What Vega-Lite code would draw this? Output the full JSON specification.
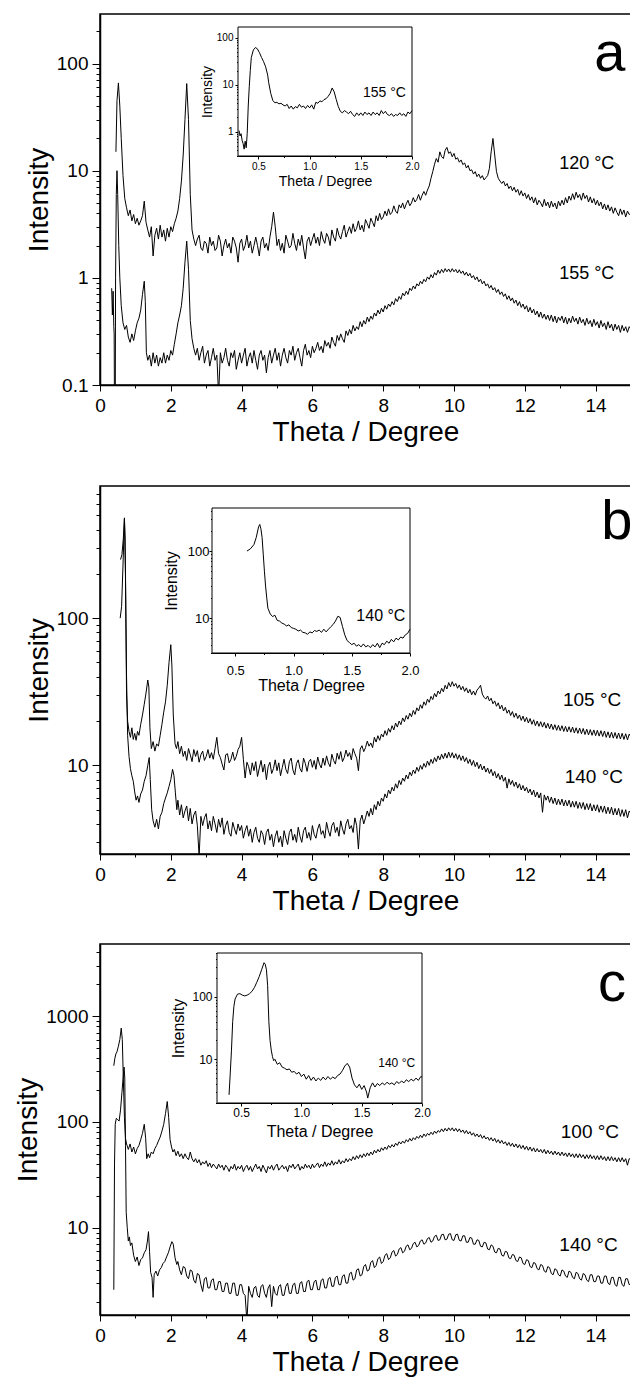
{
"$schema":"https://vega.github.io/schema/vega-lite/v6.json",
"background":"white",
"padding":{"left":13,"top":13,"right":0,"bottom":0},
"config":{
 "view":{"stroke":"black","strokeWidth":1.5},
 "axis":{"grid":false,"labelFlush":false,"labelOverlap":false,"minExtent":0,"domainColor":"black","tickColor":"black","labelColor":"black","titleColor":"black","labelFont":"Liberation Sans","titleFont":"Liberation Sans","titleFontWeight":"normal","domainWidth":1.5,"tickWidth":1},
 "text":{"font":"Liberation Sans","color":"black"},
 "line":{"color":"black"}
},
"datasets":{
"a1":[{"x":0.45,"y":15},{"x":0.48,"y":45},{"x":0.52,"y":66},{"x":0.56,"y":40},{"x":0.6,"y":20},{"x":0.65,"y":9},{"x":0.7,"y":5.5},{"x":0.75,"y":4.5},{"x":0.8,"y":3.8},{"x":0.85,"y":4.3},{"x":0.9,"y":3.4},{"x":0.95,"y":3.9},{"x":1,"y":3.2},{"x":1.05,"y":3.6},{"x":1.1,"y":3.1},{"x":1.15,"y":3.4},{"x":1.2,"y":3.8},{"x":1.25,"y":5.2},{"x":1.3,"y":3.3},{"x":1.35,"y":2.8},{"x":1.4,"y":2.4},{"x":1.45,"y":3},{"x":1.5,"y":1.6},{"x":1.55,"y":2.5},{"x":1.6,"y":2.9},{"x":1.65,"y":2.3},{"x":1.7,"y":3.1},{"x":1.75,"y":2.4},{"x":1.8,"y":2.8},{"x":1.85,"y":2.2},{"x":1.9,"y":2.9},{"x":1.95,"y":2.4},{"x":2,"y":3},{"x":2.05,"y":2.7},{"x":2.1,"y":3.2},{"x":2.15,"y":3.6},{"x":2.2,"y":4.2},{"x":2.25,"y":5.5},{"x":2.3,"y":8},{"x":2.35,"y":14},{"x":2.4,"y":30},{"x":2.45,"y":65},{"x":2.5,"y":30},{"x":2.55,"y":6},{"x":2.6,"y":2.8},{"x":2.65,"y":2.3},{"x":2.7,"y":2},{"x":2.75,"y":2.3},{"x":2.8,"y":2.5},{"x":2.85,"y":1.9},{"x":2.9,"y":1.8},{"x":2.95,"y":2.2},{"x":3,"y":2.1},{"x":3.05,"y":1.7},{"x":3.1,"y":2.4},{"x":3.15,"y":2},{"x":3.2,"y":2.2},{"x":3.25,"y":1.8},{"x":3.3,"y":1.9},{"x":3.35,"y":2.5},{"x":3.4,"y":2.2},{"x":3.45,"y":1.6},{"x":3.5,"y":2},{"x":3.55,"y":2.3},{"x":3.6,"y":1.9},{"x":3.65,"y":2.1},{"x":3.7,"y":1.7},{"x":3.75,"y":2.4},{"x":3.8,"y":2.2},{"x":3.85,"y":1.9},{"x":3.9,"y":1.4},{"x":3.95,"y":2.1},{"x":4,"y":2.3},{"x":4.05,"y":1.8},{"x":4.1,"y":2},{"x":4.15,"y":2.5},{"x":4.2,"y":1.9},{"x":4.25,"y":2.2},{"x":4.3,"y":1.7},{"x":4.35,"y":2},{"x":4.4,"y":2.4},{"x":4.45,"y":2},{"x":4.5,"y":1.6},{"x":4.55,"y":2.2},{"x":4.6,"y":2.4},{"x":4.65,"y":1.9},{"x":4.7,"y":2.1},{"x":4.75,"y":1.8},{"x":4.8,"y":2.4},{"x":4.85,"y":3},{"x":4.9,"y":4.1},{"x":4.95,"y":3},{"x":5,"y":2},{"x":5.05,"y":2.3},{"x":5.1,"y":1.8},{"x":5.15,"y":2.1},{"x":5.2,"y":1.7},{"x":5.25,"y":2.5},{"x":5.3,"y":2.2},{"x":5.35,"y":1.9},{"x":5.4,"y":2},{"x":5.45,"y":2.6},{"x":5.5,"y":2.1},{"x":5.55,"y":1.8},{"x":5.6,"y":2.3},{"x":5.65,"y":2},{"x":5.7,"y":2.5},{"x":5.75,"y":1.9},{"x":5.8,"y":1.5},{"x":5.85,"y":2.2},{"x":5.9,"y":2.4},{"x":5.95,"y":2},{"x":6,"y":2.3},{"x":6.05,"y":2.6},{"x":6.1,"y":2.1},{"x":6.15,"y":2.4},{"x":6.2,"y":2},{"x":6.25,"y":2.7},{"x":6.3,"y":2.3},{"x":6.35,"y":2.1},{"x":6.4,"y":2.6},{"x":6.45,"y":2.4},{"x":6.5,"y":2},{"x":6.55,"y":2.8},{"x":6.6,"y":2.4},{"x":6.65,"y":2.2},{"x":6.7,"y":2.9},{"x":6.75,"y":2.5},{"x":6.8,"y":2.3},{"x":6.85,"y":2.7},{"x":6.9,"y":3.1},{"x":6.95,"y":2.4},{"x":7,"y":2.7},{"x":7.05,"y":3},{"x":7.1,"y":2.6},{"x":7.15,"y":3.2},{"x":7.2,"y":2.7},{"x":7.25,"y":2.9},{"x":7.3,"y":3.4},{"x":7.35,"y":2.8},{"x":7.4,"y":3.1},{"x":7.45,"y":2.7},{"x":7.5,"y":3.5},{"x":7.55,"y":3.2},{"x":7.6,"y":2.9},{"x":7.65,"y":3.6},{"x":7.7,"y":3.3},{"x":7.75,"y":3},{"x":7.8,"y":3.8},{"x":7.85,"y":3.4},{"x":7.9,"y":4},{"x":7.95,"y":3.5},{"x":8,"y":3.7},{"x":8.05,"y":4.2},{"x":8.1,"y":3.8},{"x":8.15,"y":4.4},{"x":8.2,"y":3.9},{"x":8.25,"y":4.1},{"x":8.3,"y":4.7},{"x":8.35,"y":4.2},{"x":8.4,"y":4},{"x":8.45,"y":4.8},{"x":8.5,"y":4.5},{"x":8.55,"y":5},{"x":8.6,"y":4.4},{"x":8.65,"y":4.9},{"x":8.7,"y":5.3},{"x":8.75,"y":4.7},{"x":8.8,"y":5},{"x":8.85,"y":5.6},{"x":8.9,"y":5.1},{"x":8.95,"y":5.4},{"x":9,"y":6},{"x":9.05,"y":5.3},{"x":9.1,"y":5.9},{"x":9.15,"y":6.4},{"x":9.2,"y":5.9},{"x":9.25,"y":6.6},{"x":9.3,"y":7.2},{"x":9.35,"y":8.5},{"x":9.4,"y":9.8},{"x":9.45,"y":11.5},{"x":9.5,"y":13},{"x":9.55,"y":12},{"x":9.6,"y":15},{"x":9.65,"y":13.5},{"x":9.7,"y":13},{"x":9.75,"y":15.5},{"x":9.8,"y":16.5},{"x":9.85,"y":14.5},{"x":9.9,"y":15},{"x":9.95,"y":13.5},{"x":10,"y":14.5},{"x":10.05,"y":12.8},{"x":10.1,"y":13.2},{"x":10.15,"y":12},{"x":10.2,"y":12.6},{"x":10.25,"y":11.4},{"x":10.3,"y":11.8},{"x":10.35,"y":10.6},{"x":10.4,"y":11.2},{"x":10.45,"y":10},{"x":10.5,"y":10.2},{"x":10.55,"y":9.3},{"x":10.6,"y":9.8},{"x":10.65,"y":8.8},{"x":10.7,"y":9.3},{"x":10.75,"y":8.5},{"x":10.8,"y":9},{"x":10.85,"y":8.2},{"x":10.9,"y":8.6},{"x":10.95,"y":9},{"x":11,"y":10.5},{"x":11.05,"y":15},{"x":11.1,"y":20},{"x":11.15,"y":14},{"x":11.2,"y":9.8},{"x":11.25,"y":8.5},{"x":11.3,"y":8},{"x":11.35,"y":7.6},{"x":11.4,"y":8},{"x":11.45,"y":7.2},{"x":11.5,"y":7.6},{"x":11.55,"y":6.8},{"x":11.6,"y":7.2},{"x":11.65,"y":6.5},{"x":11.7,"y":7},{"x":11.75,"y":6.3},{"x":11.8,"y":6.7},{"x":11.85,"y":5.9},{"x":11.9,"y":6.5},{"x":11.95,"y":5.8},{"x":12,"y":6.2},{"x":12.05,"y":5.5},{"x":12.1,"y":6},{"x":12.15,"y":5.3},{"x":12.2,"y":5.7},{"x":12.25,"y":5},{"x":12.3,"y":5.6},{"x":12.35,"y":4.8},{"x":12.4,"y":5.3},{"x":12.45,"y":5},{"x":12.5,"y":4.6},{"x":12.55,"y":5.4},{"x":12.6,"y":4.7},{"x":12.65,"y":5.1},{"x":12.7,"y":4.5},{"x":12.75,"y":5.2},{"x":12.8,"y":4.6},{"x":12.85,"y":5},{"x":12.9,"y":4.4},{"x":12.95,"y":5.2},{"x":13,"y":4.7},{"x":13.05,"y":5.3},{"x":13.1,"y":4.8},{"x":13.15,"y":5.6},{"x":13.2,"y":5},{"x":13.25,"y":5.8},{"x":13.3,"y":5.3},{"x":13.35,"y":6.1},{"x":13.4,"y":5.4},{"x":13.45,"y":6.3},{"x":13.5,"y":5.6},{"x":13.55,"y":6},{"x":13.6,"y":5.3},{"x":13.65,"y":6.2},{"x":13.7,"y":5.5},{"x":13.75,"y":5.9},{"x":13.8,"y":5.1},{"x":13.85,"y":5.7},{"x":13.9,"y":5},{"x":13.95,"y":5.5},{"x":14,"y":4.8},{"x":14.05,"y":5.3},{"x":14.1,"y":4.7},{"x":14.15,"y":5.1},{"x":14.2,"y":4.4},{"x":14.25,"y":4.9},{"x":14.3,"y":4.3},{"x":14.35,"y":4.8},{"x":14.4,"y":4.2},{"x":14.45,"y":4.6},{"x":14.5,"y":4},{"x":14.55,"y":4.5},{"x":14.6,"y":4.1},{"x":14.65,"y":3.8},{"x":14.7,"y":4.4},{"x":14.75,"y":3.9},{"x":14.8,"y":4.3},{"x":14.85,"y":3.7},{"x":14.9,"y":4.2},{"x":14.95,"y":3.9},{"x":15,"y":4}],
"a2":[{"x":0.33,"y":0.8},{"x":0.35,"y":0.45},{"x":0.37,"y":0.75},{"x":0.39,"y":0.35},{"x":0.4,"y":0.3},{"x":0.41,"y":0.05},{"x":0.43,"y":0.05},{"x":0.44,"y":1},{"x":0.46,"y":6},{"x":0.48,"y":10},{"x":0.5,"y":6},{"x":0.53,"y":2},{"x":0.56,"y":1},{"x":0.6,"y":0.55},{"x":0.65,"y":0.38},{"x":0.7,"y":0.33},{"x":0.75,"y":0.36},{"x":0.8,"y":0.28},{"x":0.85,"y":0.25},{"x":0.9,"y":0.3},{"x":0.95,"y":0.26},{"x":1,"y":0.32},{"x":1.05,"y":0.38},{"x":1.1,"y":0.42},{"x":1.15,"y":0.5},{"x":1.2,"y":0.7},{"x":1.25,"y":0.93},{"x":1.28,"y":0.6},{"x":1.31,"y":0.2},{"x":1.35,"y":0.17},{"x":1.4,"y":0.19},{"x":1.45,"y":0.15},{"x":1.5,"y":0.2},{"x":1.55,"y":0.16},{"x":1.6,"y":0.19},{"x":1.65,"y":0.15},{"x":1.7,"y":0.18},{"x":1.75,"y":0.16},{"x":1.8,"y":0.2},{"x":1.85,"y":0.16},{"x":1.9,"y":0.19},{"x":1.95,"y":0.17},{"x":2,"y":0.21},{"x":2.05,"y":0.19},{"x":2.1,"y":0.24},{"x":2.15,"y":0.3},{"x":2.2,"y":0.38},{"x":2.25,"y":0.45},{"x":2.3,"y":0.55},{"x":2.35,"y":0.8},{"x":2.4,"y":1.4},{"x":2.45,"y":2.2},{"x":2.5,"y":1.2},{"x":2.55,"y":0.4},{"x":2.6,"y":0.27},{"x":2.65,"y":0.22},{"x":2.7,"y":0.19},{"x":2.75,"y":0.22},{"x":2.8,"y":0.17},{"x":2.85,"y":0.2},{"x":2.9,"y":0.23},{"x":2.95,"y":0.16},{"x":3,"y":0.19},{"x":3.05,"y":0.21},{"x":3.1,"y":0.15},{"x":3.15,"y":0.18},{"x":3.2,"y":0.22},{"x":3.25,"y":0.17},{"x":3.3,"y":0.19},{"x":3.35,"y":0.08},{"x":3.4,"y":0.2},{"x":3.45,"y":0.16},{"x":3.5,"y":0.18},{"x":3.55,"y":0.22},{"x":3.6,"y":0.17},{"x":3.65,"y":0.15},{"x":3.7,"y":0.2},{"x":3.75,"y":0.18},{"x":3.8,"y":0.21},{"x":3.85,"y":0.14},{"x":3.9,"y":0.17},{"x":3.95,"y":0.2},{"x":4,"y":0.16},{"x":4.05,"y":0.19},{"x":4.1,"y":0.22},{"x":4.15,"y":0.15},{"x":4.2,"y":0.18},{"x":4.25,"y":0.2},{"x":4.3,"y":0.16},{"x":4.35,"y":0.21},{"x":4.4,"y":0.17},{"x":4.45,"y":0.14},{"x":4.5,"y":0.19},{"x":4.55,"y":0.21},{"x":4.6,"y":0.17},{"x":4.65,"y":0.19},{"x":4.7,"y":0.13},{"x":4.75,"y":0.18},{"x":4.8,"y":0.21},{"x":4.85,"y":0.16},{"x":4.9,"y":0.19},{"x":4.95,"y":0.22},{"x":5,"y":0.17},{"x":5.05,"y":0.2},{"x":5.1,"y":0.15},{"x":5.15,"y":0.19},{"x":5.2,"y":0.22},{"x":5.25,"y":0.18},{"x":5.3,"y":0.16},{"x":5.35,"y":0.21},{"x":5.4,"y":0.19},{"x":5.45,"y":0.23},{"x":5.5,"y":0.17},{"x":5.55,"y":0.2},{"x":5.6,"y":0.22},{"x":5.65,"y":0.18},{"x":5.7,"y":0.15},{"x":5.75,"y":0.21},{"x":5.8,"y":0.24},{"x":5.85,"y":0.19},{"x":5.9,"y":0.21},{"x":5.95,"y":0.18},{"x":6,"y":0.23},{"x":6.05,"y":0.2},{"x":6.1,"y":0.22},{"x":6.15,"y":0.25},{"x":6.2,"y":0.21},{"x":6.25,"y":0.23},{"x":6.3,"y":0.2},{"x":6.35,"y":0.26},{"x":6.4,"y":0.23},{"x":6.45,"y":0.25},{"x":6.5,"y":0.22},{"x":6.55,"y":0.28},{"x":6.6,"y":0.25},{"x":6.65,"y":0.23},{"x":6.7,"y":0.29},{"x":6.75,"y":0.26},{"x":6.8,"y":0.3},{"x":6.85,"y":0.27},{"x":6.9,"y":0.25},{"x":6.95,"y":0.32},{"x":7,"y":0.29},{"x":7.05,"y":0.33},{"x":7.1,"y":0.3},{"x":7.15,"y":0.36},{"x":7.2,"y":0.32},{"x":7.25,"y":0.35},{"x":7.3,"y":0.33},{"x":7.35,"y":0.39},{"x":7.4,"y":0.35},{"x":7.45,"y":0.4},{"x":7.5,"y":0.37},{"x":7.55,"y":0.43},{"x":7.6,"y":0.39},{"x":7.65,"y":0.44},{"x":7.7,"y":0.41},{"x":7.75,"y":0.47},{"x":7.8,"y":0.44},{"x":7.85,"y":0.5},{"x":7.9,"y":0.46},{"x":7.95,"y":0.52},{"x":8,"y":0.48},{"x":8.05,"y":0.55},{"x":8.1,"y":0.51},{"x":8.15,"y":0.57},{"x":8.2,"y":0.54},{"x":8.25,"y":0.6},{"x":8.3,"y":0.56},{"x":8.35,"y":0.64},{"x":8.4,"y":0.6},{"x":8.45,"y":0.67},{"x":8.5,"y":0.63},{"x":8.55,"y":0.72},{"x":8.6,"y":0.68},{"x":8.65,"y":0.75},{"x":8.7,"y":0.7},{"x":8.75,"y":0.8},{"x":8.8,"y":0.76},{"x":8.85,"y":0.84},{"x":8.9,"y":0.79},{"x":8.95,"y":0.88},{"x":9,"y":0.84},{"x":9.05,"y":0.93},{"x":9.1,"y":0.88},{"x":9.15,"y":0.97},{"x":9.2,"y":0.92},{"x":9.25,"y":1.02},{"x":9.3,"y":0.97},{"x":9.35,"y":1.07},{"x":9.4,"y":1},{"x":9.45,"y":1.12},{"x":9.5,"y":1.06},{"x":9.55,"y":1.18},{"x":9.6,"y":1.1},{"x":9.65,"y":1.2},{"x":9.7,"y":1.12},{"x":9.75,"y":1.22},{"x":9.8,"y":1.14},{"x":9.85,"y":1.21},{"x":9.9,"y":1.13},{"x":9.95,"y":1.22},{"x":10,"y":1.14},{"x":10.05,"y":1.2},{"x":10.1,"y":1.11},{"x":10.15,"y":1.19},{"x":10.2,"y":1.1},{"x":10.25,"y":1.16},{"x":10.3,"y":1.06},{"x":10.35,"y":1.13},{"x":10.4,"y":1.04},{"x":10.45,"y":1.1},{"x":10.5,"y":1},{"x":10.55,"y":1.05},{"x":10.6,"y":0.96},{"x":10.65,"y":1.02},{"x":10.7,"y":0.92},{"x":10.75,"y":0.97},{"x":10.8,"y":0.88},{"x":10.85,"y":0.93},{"x":10.9,"y":0.84},{"x":10.95,"y":0.88},{"x":11,"y":0.8},{"x":11.05,"y":0.85},{"x":11.1,"y":0.77},{"x":11.15,"y":0.81},{"x":11.2,"y":0.73},{"x":11.25,"y":0.78},{"x":11.3,"y":0.7},{"x":11.35,"y":0.74},{"x":11.4,"y":0.67},{"x":11.45,"y":0.71},{"x":11.5,"y":0.63},{"x":11.55,"y":0.68},{"x":11.6,"y":0.61},{"x":11.65,"y":0.65},{"x":11.7,"y":0.58},{"x":11.75,"y":0.62},{"x":11.8,"y":0.55},{"x":11.85,"y":0.6},{"x":11.9,"y":0.53},{"x":11.95,"y":0.57},{"x":12,"y":0.51},{"x":12.05,"y":0.55},{"x":12.1,"y":0.48},{"x":12.15,"y":0.53},{"x":12.2,"y":0.47},{"x":12.25,"y":0.51},{"x":12.3,"y":0.45},{"x":12.35,"y":0.49},{"x":12.4,"y":0.43},{"x":12.45,"y":0.48},{"x":12.5,"y":0.42},{"x":12.55,"y":0.46},{"x":12.6,"y":0.41},{"x":12.65,"y":0.45},{"x":12.7,"y":0.4},{"x":12.75,"y":0.45},{"x":12.8,"y":0.39},{"x":12.85,"y":0.44},{"x":12.9,"y":0.38},{"x":12.95,"y":0.43},{"x":13,"y":0.4},{"x":13.05,"y":0.44},{"x":13.1,"y":0.38},{"x":13.15,"y":0.43},{"x":13.2,"y":0.37},{"x":13.25,"y":0.42},{"x":13.3,"y":0.38},{"x":13.35,"y":0.44},{"x":13.4,"y":0.39},{"x":13.45,"y":0.42},{"x":13.5,"y":0.37},{"x":13.55,"y":0.43},{"x":13.6,"y":0.38},{"x":13.65,"y":0.41},{"x":13.7,"y":0.36},{"x":13.75,"y":0.42},{"x":13.8,"y":0.37},{"x":13.85,"y":0.4},{"x":13.9,"y":0.35},{"x":13.95,"y":0.41},{"x":14,"y":0.36},{"x":14.05,"y":0.39},{"x":14.1,"y":0.34},{"x":14.15,"y":0.4},{"x":14.2,"y":0.35},{"x":14.25,"y":0.38},{"x":14.3,"y":0.33},{"x":14.35,"y":0.39},{"x":14.4,"y":0.34},{"x":14.45,"y":0.37},{"x":14.5,"y":0.32},{"x":14.55,"y":0.37},{"x":14.6,"y":0.33},{"x":14.65,"y":0.36},{"x":14.7,"y":0.31},{"x":14.75,"y":0.36},{"x":14.8,"y":0.32},{"x":14.85,"y":0.35},{"x":14.9,"y":0.31},{"x":14.95,"y":0.35},{"x":15,"y":0.33}],
"ai":[{"x":0.31,"y":1.05},{"x":0.32,"y":0.8},{"x":0.33,"y":0.9},{"x":0.34,"y":0.65},{"x":0.35,"y":0.55},{"x":0.36,"y":0.42},{"x":0.37,"y":0.62},{"x":0.38,"y":0.45},{"x":0.39,"y":0.9},{"x":0.4,"y":3.5},{"x":0.41,"y":9},{"x":0.42,"y":20},{"x":0.43,"y":38},{"x":0.45,"y":55},{"x":0.47,"y":62},{"x":0.49,"y":58},{"x":0.51,"y":48},{"x":0.53,"y":38},{"x":0.55,"y":31},{"x":0.57,"y":24},{"x":0.59,"y":16},{"x":0.6,"y":11},{"x":0.62,"y":6.5},{"x":0.64,"y":4.6},{"x":0.66,"y":4.1},{"x":0.68,"y":4.2},{"x":0.7,"y":3.9},{"x":0.72,"y":4},{"x":0.74,"y":3.7},{"x":0.76,"y":3.5},{"x":0.78,"y":3.8},{"x":0.8,"y":3.1},{"x":0.82,"y":3.5},{"x":0.84,"y":3},{"x":0.86,"y":3.4},{"x":0.88,"y":3.2},{"x":0.9,"y":3.8},{"x":0.92,"y":3.3},{"x":0.94,"y":3.5},{"x":0.96,"y":3.1},{"x":0.98,"y":3.6},{"x":1,"y":3.2},{"x":1.02,"y":3.7},{"x":1.04,"y":3},{"x":1.06,"y":4.2},{"x":1.08,"y":4},{"x":1.1,"y":4.5},{"x":1.12,"y":4.3},{"x":1.14,"y":4.8},{"x":1.16,"y":5},{"x":1.18,"y":5.6},{"x":1.2,"y":6.5},{"x":1.22,"y":8.5},{"x":1.24,"y":7},{"x":1.26,"y":4.8},{"x":1.28,"y":3.4},{"x":1.3,"y":2.7},{"x":1.32,"y":2.5},{"x":1.34,"y":2.8},{"x":1.36,"y":2.6},{"x":1.38,"y":2.4},{"x":1.4,"y":2.7},{"x":1.42,"y":2.3},{"x":1.44,"y":2.1},{"x":1.46,"y":2.5},{"x":1.48,"y":2.2},{"x":1.5,"y":2.5},{"x":1.52,"y":2.2},{"x":1.54,"y":2.6},{"x":1.56,"y":2.3},{"x":1.58,"y":2.5},{"x":1.6,"y":2.2},{"x":1.62,"y":2.6},{"x":1.64,"y":2.3},{"x":1.66,"y":2.5},{"x":1.68,"y":2.2},{"x":1.7,"y":2.8},{"x":1.72,"y":2.4},{"x":1.74,"y":2.7},{"x":1.76,"y":2.3},{"x":1.78,"y":2.2},{"x":1.8,"y":2.4},{"x":1.82,"y":2.1},{"x":1.84,"y":2.3},{"x":1.86,"y":2.2},{"x":1.88,"y":2.5},{"x":1.9,"y":2.2},{"x":1.92,"y":2.4},{"x":1.94,"y":2.1},{"x":1.96,"y":2.6},{"x":1.98,"y":2.4},{"x":2,"y":2.8}],
"b1":[{"x":0.58,"y":250},{"x":0.62,"y":270},{"x":0.66,"y":350},{"x":0.69,"y":480},{"x":0.71,"y":350},{"x":0.73,"y":100},{"x":0.75,"y":30},{"x":0.78,"y":20},{"x":0.82,"y":17},{"x":0.86,"y":15.5},{"x":0.9,"y":18},{"x":0.94,"y":15},{"x":0.98,"y":16.5},{"x":1.02,"y":14.8},{"x":1.06,"y":17},{"x":1.1,"y":16},{"x":1.15,"y":19},{"x":1.2,"y":22},{"x":1.25,"y":26},{"x":1.3,"y":31},{"x":1.35,"y":38},{"x":1.38,"y":34},{"x":1.41,"y":18},{"x":1.45,"y":13},{"x":1.5,"y":14.5},{"x":1.55,"y":12.5},{"x":1.6,"y":14},{"x":1.65,"y":13.5},{"x":1.7,"y":16},{"x":1.75,"y":19},{"x":1.8,"y":23},{"x":1.85,"y":27},{"x":1.9,"y":35},{"x":1.95,"y":50},{"x":2,"y":66},{"x":2.03,"y":48},{"x":2.07,"y":22},{"x":2.12,"y":14},{"x":2.16,"y":13},{"x":2.2,"y":14.5},{"x":2.25,"y":12},{"x":2.3,"y":13.5},{"x":2.35,"y":11.5},{"x":2.4,"y":12.5},{"x":2.45,"y":10.8},{"x":2.5,"y":13},{"x":2.55,"y":11.8},{"x":2.6,"y":10.6},{"x":2.65,"y":12.8},{"x":2.7,"y":11.5},{"x":2.75,"y":12.6},{"x":2.8,"y":10.5},{"x":2.85,"y":11.8},{"x":2.9,"y":12.5},{"x":2.95,"y":10.8},{"x":3,"y":11.5},{"x":3.05,"y":12.8},{"x":3.1,"y":11.2},{"x":3.15,"y":12.2},{"x":3.2,"y":11},{"x":3.25,"y":13},{"x":3.3,"y":15.5},{"x":3.35,"y":12},{"x":3.4,"y":11.3},{"x":3.45,"y":10.2},{"x":3.5,"y":9.3},{"x":3.55,"y":11.8},{"x":3.6,"y":12},{"x":3.65,"y":10.4},{"x":3.7,"y":11},{"x":3.75,"y":12.3},{"x":3.8,"y":10.8},{"x":3.85,"y":11.5},{"x":3.9,"y":12.8},{"x":3.95,"y":13.5},{"x":4,"y":15.5},{"x":4.05,"y":11},{"x":4.1,"y":8.2},{"x":4.15,"y":10.5},{"x":4.2,"y":9.8},{"x":4.25,"y":8.6},{"x":4.3,"y":10.4},{"x":4.35,"y":9.2},{"x":4.4,"y":10.6},{"x":4.45,"y":8.4},{"x":4.5,"y":9.6},{"x":4.55,"y":10.8},{"x":4.6,"y":9},{"x":4.65,"y":10.2},{"x":4.7,"y":8},{"x":4.75,"y":9.8},{"x":4.8,"y":10.5},{"x":4.85,"y":8.8},{"x":4.9,"y":9.5},{"x":4.95,"y":10.9},{"x":5,"y":9.2},{"x":5.05,"y":10.4},{"x":5.1,"y":8.5},{"x":5.15,"y":9.7},{"x":5.2,"y":11},{"x":5.25,"y":9.4},{"x":5.3,"y":8.8},{"x":5.35,"y":10.6},{"x":5.4,"y":11.2},{"x":5.45,"y":9.3},{"x":5.5,"y":8.6},{"x":5.55,"y":10.3},{"x":5.6,"y":10.9},{"x":5.65,"y":9.5},{"x":5.7,"y":9},{"x":5.75,"y":11.2},{"x":5.8,"y":10.3},{"x":5.85,"y":9.1},{"x":5.9,"y":10.6},{"x":5.95,"y":11},{"x":6,"y":9.7},{"x":6.05,"y":10.8},{"x":6.1,"y":9.4},{"x":6.15,"y":11.4},{"x":6.2,"y":10.2},{"x":6.25,"y":9.6},{"x":6.3,"y":11.2},{"x":6.35,"y":10},{"x":6.4,"y":11.6},{"x":6.45,"y":10.4},{"x":6.5,"y":9.8},{"x":6.55,"y":11.9},{"x":6.6,"y":10.8},{"x":6.65,"y":10.2},{"x":6.7,"y":12.1},{"x":6.75,"y":11},{"x":6.8,"y":12.4},{"x":6.85,"y":10.6},{"x":6.9,"y":11.3},{"x":6.95,"y":12.7},{"x":7,"y":11.5},{"x":7.05,"y":12.2},{"x":7.1,"y":10.9},{"x":7.15,"y":13},{"x":7.2,"y":12},{"x":7.25,"y":11.2},{"x":7.3,"y":9.2},{"x":7.35,"y":12.9},{"x":7.4,"y":13.6},{"x":7.45,"y":12.4},{"x":7.5,"y":13.2},{"x":7.55,"y":14.6},{"x":7.6,"y":13.5},{"x":7.65,"y":14.2},{"x":7.7,"y":13.2},{"x":7.75,"y":15.5},{"x":7.8,"y":14.4},{"x":7.85,"y":15.9},{"x":7.9,"y":14.8},{"x":7.95,"y":16.3},{"x":8,"y":15.6},{"x":8.05,"y":17.2},{"x":8.1,"y":16},{"x":8.15,"y":17.8},{"x":8.2,"y":16.8},{"x":8.25,"y":18.6},{"x":8.3,"y":17.4},{"x":8.35,"y":19.4},{"x":8.4,"y":18.2},{"x":8.45,"y":20},{"x":8.5,"y":18.9},{"x":8.55,"y":21},{"x":8.6,"y":19.8},{"x":8.65,"y":21.8},{"x":8.7,"y":20.6},{"x":8.75,"y":22.6},{"x":8.8,"y":21.4},{"x":8.85,"y":23.6},{"x":8.9,"y":22.2},{"x":8.95,"y":24.6},{"x":9,"y":23.4},{"x":9.05,"y":25.8},{"x":9.1,"y":24.4},{"x":9.15,"y":27},{"x":9.2,"y":25.6},{"x":9.25,"y":28.2},{"x":9.3,"y":26.8},{"x":9.35,"y":29.4},{"x":9.4,"y":28},{"x":9.45,"y":30.8},{"x":9.5,"y":29.2},{"x":9.55,"y":32},{"x":9.6,"y":30.6},{"x":9.65,"y":33.4},{"x":9.7,"y":31.6},{"x":9.75,"y":35},{"x":9.8,"y":33},{"x":9.85,"y":36.5},{"x":9.9,"y":34.2},{"x":9.95,"y":37},{"x":10,"y":34.5},{"x":10.05,"y":36},{"x":10.1,"y":33.4},{"x":10.15,"y":35.2},{"x":10.2,"y":32.6},{"x":10.25,"y":34.4},{"x":10.3,"y":31.8},{"x":10.35,"y":33.6},{"x":10.4,"y":31},{"x":10.45,"y":32.8},{"x":10.5,"y":30.2},{"x":10.55,"y":32},{"x":10.6,"y":30},{"x":10.65,"y":32.5},{"x":10.7,"y":33.5},{"x":10.75,"y":35},{"x":10.8,"y":30.5},{"x":10.85,"y":29},{"x":10.9,"y":28.2},{"x":10.95,"y":29.6},{"x":11,"y":27.4},{"x":11.05,"y":28.6},{"x":11.1,"y":26.2},{"x":11.15,"y":27.4},{"x":11.2,"y":25.2},{"x":11.25,"y":26.6},{"x":11.3,"y":24.2},{"x":11.35,"y":25.6},{"x":11.4,"y":23.4},{"x":11.45,"y":24.8},{"x":11.5,"y":22.6},{"x":11.55,"y":23.8},{"x":11.6,"y":21.8},{"x":11.65,"y":23.2},{"x":11.7,"y":21.2},{"x":11.75,"y":22.6},{"x":11.8,"y":20.8},{"x":11.85,"y":22},{"x":11.9,"y":20.2},{"x":11.95,"y":21.6},{"x":12,"y":19.8},{"x":12.05,"y":21.2},{"x":12.1,"y":19.4},{"x":12.15,"y":20.8},{"x":12.2,"y":19},{"x":12.25,"y":20.4},{"x":12.3,"y":18.6},{"x":12.35,"y":20},{"x":12.4,"y":18.4},{"x":12.45,"y":19.8},{"x":12.5,"y":18.2},{"x":12.55,"y":19.6},{"x":12.6,"y":17.9},{"x":12.65,"y":19.3},{"x":12.7,"y":17.7},{"x":12.75,"y":19.1},{"x":12.8,"y":17.5},{"x":12.85,"y":18.9},{"x":12.9,"y":17.3},{"x":12.95,"y":18.7},{"x":13,"y":17.2},{"x":13.05,"y":18.6},{"x":13.1,"y":17},{"x":13.15,"y":18.4},{"x":13.2,"y":16.9},{"x":13.25,"y":18.3},{"x":13.3,"y":16.8},{"x":13.35,"y":18.2},{"x":13.4,"y":16.6},{"x":13.45,"y":18},{"x":13.5,"y":16.5},{"x":13.55,"y":17.9},{"x":13.6,"y":16.4},{"x":13.65,"y":17.8},{"x":13.7,"y":16.2},{"x":13.75,"y":17.6},{"x":13.8,"y":16.1},{"x":13.85,"y":17.5},{"x":13.9,"y":16},{"x":13.95,"y":17.4},{"x":14,"y":15.9},{"x":14.05,"y":17.3},{"x":14.1,"y":15.8},{"x":14.15,"y":17.2},{"x":14.2,"y":15.7},{"x":14.25,"y":17.1},{"x":14.3,"y":15.5},{"x":14.35,"y":16.9},{"x":14.4,"y":15.4},{"x":14.45,"y":16.8},{"x":14.5,"y":15.3},{"x":14.55,"y":16.7},{"x":14.6,"y":15.2},{"x":14.65,"y":16.6},{"x":14.7,"y":15.1},{"x":14.75,"y":16.5},{"x":14.8,"y":15},{"x":14.85,"y":16.4},{"x":14.9,"y":14.9},{"x":14.95,"y":16.3},{"x":15,"y":15.6}],
"b2":[{"x":0.57,"y":100},{"x":0.61,"y":120},{"x":0.65,"y":230},{"x":0.69,"y":470},{"x":0.72,"y":200},{"x":0.75,"y":40},{"x":0.78,"y":16},{"x":0.82,"y":11.5},{"x":0.86,"y":9.5},{"x":0.9,"y":8.5},{"x":0.94,"y":7.8},{"x":0.98,"y":6.6},{"x":1.02,"y":5.8},{"x":1.06,"y":6.2},{"x":1.1,"y":5.6},{"x":1.15,"y":6.4},{"x":1.2,"y":6.8},{"x":1.25,"y":7.8},{"x":1.3,"y":8.5},{"x":1.35,"y":10},{"x":1.39,"y":11.3},{"x":1.42,"y":8},{"x":1.46,"y":5},{"x":1.5,"y":4.2},{"x":1.55,"y":3.8},{"x":1.6,"y":4.3},{"x":1.65,"y":3.7},{"x":1.7,"y":4.5},{"x":1.75,"y":4.8},{"x":1.8,"y":5.5},{"x":1.85,"y":6},{"x":1.9,"y":6.5},{"x":1.95,"y":7.2},{"x":2,"y":8},{"x":2.05,"y":9.4},{"x":2.09,"y":8.5},{"x":2.13,"y":6.5},{"x":2.17,"y":5},{"x":2.2,"y":5.8},{"x":2.25,"y":4.6},{"x":2.3,"y":5.4},{"x":2.35,"y":4.4},{"x":2.4,"y":4.9},{"x":2.45,"y":5.3},{"x":2.5,"y":4.2},{"x":2.55,"y":5.1},{"x":2.6,"y":4},{"x":2.65,"y":4.6},{"x":2.7,"y":4.9},{"x":2.75,"y":3.9},{"x":2.8,"y":2.4},{"x":2.85,"y":4.5},{"x":2.9,"y":3.9},{"x":2.95,"y":4.4},{"x":3,"y":4.7},{"x":3.05,"y":3.7},{"x":3.1,"y":4.2},{"x":3.15,"y":3.6},{"x":3.2,"y":4.5},{"x":3.25,"y":4},{"x":3.3,"y":3.5},{"x":3.35,"y":4.3},{"x":3.4,"y":3.8},{"x":3.45,"y":4.4},{"x":3.5,"y":3.4},{"x":3.55,"y":3.9},{"x":3.6,"y":4.2},{"x":3.65,"y":3.5},{"x":3.7,"y":3.3},{"x":3.75,"y":4.1},{"x":3.8,"y":3.7},{"x":3.85,"y":3.4},{"x":3.9,"y":4},{"x":3.95,"y":3.6},{"x":4,"y":3.9},{"x":4.05,"y":3.2},{"x":4.1,"y":3.6},{"x":4.15,"y":3.9},{"x":4.2,"y":3.3},{"x":4.25,"y":3.7},{"x":4.3,"y":3},{"x":4.35,"y":3.5},{"x":4.4,"y":3.8},{"x":4.45,"y":3.2},{"x":4.5,"y":3},{"x":4.55,"y":3.6},{"x":4.6,"y":3.4},{"x":4.65,"y":2.9},{"x":4.7,"y":3.5},{"x":4.75,"y":3.7},{"x":4.8,"y":3.1},{"x":4.85,"y":3.4},{"x":4.9,"y":2.8},{"x":4.95,"y":3.3},{"x":5,"y":3.6},{"x":5.05,"y":3},{"x":5.1,"y":3.3},{"x":5.15,"y":2.8},{"x":5.2,"y":3.6},{"x":5.25,"y":3.2},{"x":5.3,"y":2.9},{"x":5.35,"y":3.5},{"x":5.4,"y":3.7},{"x":5.45,"y":3.1},{"x":5.5,"y":3.4},{"x":5.55,"y":3},{"x":5.6,"y":3.8},{"x":5.65,"y":3.3},{"x":5.7,"y":3},{"x":5.75,"y":3.6},{"x":5.8,"y":3.8},{"x":5.85,"y":3.2},{"x":5.9,"y":3.5},{"x":5.95,"y":3.1},{"x":6,"y":3.9},{"x":6.05,"y":3.4},{"x":6.1,"y":3.2},{"x":6.15,"y":3.7},{"x":6.2,"y":4},{"x":6.25,"y":3.4},{"x":6.3,"y":3.6},{"x":6.35,"y":3.2},{"x":6.4,"y":4.1},{"x":6.45,"y":3.6},{"x":6.5,"y":3.3},{"x":6.55,"y":3.9},{"x":6.6,"y":4.1},{"x":6.65,"y":3.5},{"x":6.7,"y":3.8},{"x":6.75,"y":3.3},{"x":6.8,"y":4.2},{"x":6.85,"y":3.7},{"x":6.9,"y":3.4},{"x":6.95,"y":4},{"x":7,"y":4.3},{"x":7.05,"y":3.7},{"x":7.1,"y":3.9},{"x":7.15,"y":3.5},{"x":7.2,"y":4.4},{"x":7.25,"y":3.9},{"x":7.3,"y":2.7},{"x":7.35,"y":4.2},{"x":7.4,"y":4.6},{"x":7.45,"y":4},{"x":7.5,"y":4.4},{"x":7.55,"y":4.9},{"x":7.6,"y":4.5},{"x":7.65,"y":5.1},{"x":7.7,"y":4.6},{"x":7.75,"y":5.4},{"x":7.8,"y":5},{"x":7.85,"y":5.7},{"x":7.9,"y":5.3},{"x":7.95,"y":6},{"x":8,"y":5.7},{"x":8.05,"y":6.4},{"x":8.1,"y":6},{"x":8.15,"y":6.8},{"x":8.2,"y":6.4},{"x":8.25,"y":7.1},{"x":8.3,"y":6.7},{"x":8.35,"y":7.5},{"x":8.4,"y":7},{"x":8.45,"y":7.9},{"x":8.5,"y":7.4},{"x":8.55,"y":8.2},{"x":8.6,"y":7.8},{"x":8.65,"y":8.6},{"x":8.7,"y":8.1},{"x":8.75,"y":9},{"x":8.8,"y":8.5},{"x":8.85,"y":9.3},{"x":8.9,"y":8.8},{"x":8.95,"y":9.7},{"x":9,"y":9.1},{"x":9.05,"y":10},{"x":9.1,"y":9.4},{"x":9.15,"y":10.3},{"x":9.2,"y":9.7},{"x":9.25,"y":10.7},{"x":9.3,"y":10},{"x":9.35,"y":11},{"x":9.4,"y":10.3},{"x":9.45,"y":11.3},{"x":9.5,"y":10.6},{"x":9.55,"y":11.6},{"x":9.6,"y":10.9},{"x":9.65,"y":11.9},{"x":9.7,"y":11.1},{"x":9.75,"y":12.1},{"x":9.8,"y":11.2},{"x":9.85,"y":12.3},{"x":9.9,"y":11.3},{"x":9.95,"y":12.2},{"x":10,"y":11.2},{"x":10.05,"y":12},{"x":10.1,"y":11},{"x":10.15,"y":11.8},{"x":10.2,"y":10.8},{"x":10.25,"y":11.6},{"x":10.3,"y":10.6},{"x":10.35,"y":11.3},{"x":10.4,"y":10.3},{"x":10.45,"y":11},{"x":10.5,"y":10},{"x":10.55,"y":10.8},{"x":10.6,"y":9.8},{"x":10.65,"y":10.5},{"x":10.7,"y":9.5},{"x":10.75,"y":10.2},{"x":10.8,"y":9.3},{"x":10.85,"y":9.9},{"x":10.9,"y":9},{"x":10.95,"y":9.6},{"x":11,"y":8.8},{"x":11.05,"y":9.4},{"x":11.1,"y":8.5},{"x":11.15,"y":9.1},{"x":11.2,"y":8.2},{"x":11.25,"y":8.8},{"x":11.3,"y":8},{"x":11.35,"y":8.6},{"x":11.4,"y":7.8},{"x":11.45,"y":8.3},{"x":11.5,"y":7},{"x":11.55,"y":8.1},{"x":11.6,"y":7.4},{"x":11.65,"y":7.9},{"x":11.7,"y":7.2},{"x":11.75,"y":7.7},{"x":11.8,"y":7},{"x":11.85,"y":7.5},{"x":11.9,"y":6.8},{"x":11.95,"y":7.3},{"x":12,"y":6.7},{"x":12.05,"y":7.1},{"x":12.1,"y":6.5},{"x":12.15,"y":6.9},{"x":12.2,"y":6.3},{"x":12.25,"y":6.8},{"x":12.3,"y":6.1},{"x":12.35,"y":6.6},{"x":12.4,"y":6},{"x":12.45,"y":6.5},{"x":12.5,"y":4.8},{"x":12.55,"y":6.3},{"x":12.6,"y":5.8},{"x":12.65,"y":6.2},{"x":12.7,"y":5.6},{"x":12.75,"y":6.1},{"x":12.8,"y":5.5},{"x":12.85,"y":6},{"x":12.9,"y":5.4},{"x":12.95,"y":5.9},{"x":13,"y":5.4},{"x":13.05,"y":5.9},{"x":13.1,"y":5.3},{"x":13.15,"y":5.8},{"x":13.2,"y":5.3},{"x":13.25,"y":5.8},{"x":13.3,"y":5.2},{"x":13.35,"y":5.7},{"x":13.4,"y":5.2},{"x":13.45,"y":5.7},{"x":13.5,"y":5.1},{"x":13.55,"y":5.6},{"x":13.6,"y":5.1},{"x":13.65,"y":5.6},{"x":13.7,"y":5},{"x":13.75,"y":5.5},{"x":13.8,"y":5},{"x":13.85,"y":5.5},{"x":13.9,"y":4.9},{"x":13.95,"y":5.4},{"x":14,"y":4.9},{"x":14.05,"y":5.4},{"x":14.1,"y":4.8},{"x":14.15,"y":5.3},{"x":14.2,"y":4.8},{"x":14.25,"y":5.3},{"x":14.3,"y":4.7},{"x":14.35,"y":5.2},{"x":14.4,"y":4.7},{"x":14.45,"y":5.2},{"x":14.5,"y":4.6},{"x":14.55,"y":5.1},{"x":14.6,"y":4.6},{"x":14.65,"y":5.1},{"x":14.7,"y":4.5},{"x":14.75,"y":5},{"x":14.8,"y":4.5},{"x":14.85,"y":5},{"x":14.9,"y":4.4},{"x":14.95,"y":4.9},{"x":15,"y":4.7}],
"bi":[{"x":0.6,"y":100},{"x":0.63,"y":108},{"x":0.66,"y":125},{"x":0.68,"y":160},{"x":0.7,"y":230},{"x":0.71,"y":250},{"x":0.72,"y":215},{"x":0.73,"y":160},{"x":0.74,"y":90},{"x":0.75,"y":50},{"x":0.76,"y":30},{"x":0.77,"y":20},{"x":0.78,"y":14},{"x":0.8,"y":11.5},{"x":0.82,"y":10.5},{"x":0.84,"y":11},{"x":0.86,"y":9.2},{"x":0.88,"y":9},{"x":0.9,"y":8.4},{"x":0.92,"y":8.1},{"x":0.94,"y":7.6},{"x":0.96,"y":7.9},{"x":0.98,"y":7.2},{"x":1,"y":7},{"x":1.02,"y":6.8},{"x":1.04,"y":6.4},{"x":1.06,"y":6.6},{"x":1.08,"y":6.1},{"x":1.1,"y":6},{"x":1.12,"y":5.7},{"x":1.14,"y":6.2},{"x":1.16,"y":6},{"x":1.18,"y":6.5},{"x":1.2,"y":6.3},{"x":1.22,"y":6.6},{"x":1.24,"y":6.1},{"x":1.26,"y":6.8},{"x":1.28,"y":6.2},{"x":1.3,"y":6.8},{"x":1.32,"y":7.4},{"x":1.34,"y":8},{"x":1.36,"y":9},{"x":1.38,"y":10.6},{"x":1.4,"y":10.2},{"x":1.42,"y":7.5},{"x":1.44,"y":5.6},{"x":1.46,"y":4.6},{"x":1.48,"y":4.3},{"x":1.5,"y":4},{"x":1.52,"y":4.2},{"x":1.54,"y":3.8},{"x":1.56,"y":4},{"x":1.58,"y":3.7},{"x":1.6,"y":4.1},{"x":1.62,"y":3.7},{"x":1.64,"y":3.9},{"x":1.66,"y":3.6},{"x":1.68,"y":4},{"x":1.7,"y":3.7},{"x":1.72,"y":4.2},{"x":1.74,"y":3.6},{"x":1.76,"y":4.2},{"x":1.78,"y":4},{"x":1.8,"y":4.5},{"x":1.82,"y":4.2},{"x":1.84,"y":4.8},{"x":1.86,"y":4.4},{"x":1.88,"y":5},{"x":1.9,"y":4.7},{"x":1.92,"y":5.2},{"x":1.94,"y":5},{"x":1.96,"y":5.6},{"x":1.98,"y":5.9},{"x":2,"y":6.8}],
"c1":[{"x":0.39,"y":340},{"x":0.42,"y":400},{"x":0.45,"y":440},{"x":0.48,"y":460},{"x":0.52,"y":520},{"x":0.56,"y":600},{"x":0.6,"y":770},{"x":0.63,"y":600},{"x":0.66,"y":250},{"x":0.69,"y":110},{"x":0.72,"y":70},{"x":0.75,"y":62},{"x":0.8,"y":55},{"x":0.85,"y":62},{"x":0.9,"y":52},{"x":0.95,"y":58},{"x":1,"y":50},{"x":1.05,"y":56},{"x":1.1,"y":60},{"x":1.15,"y":68},{"x":1.2,"y":78},{"x":1.25,"y":95},{"x":1.29,"y":70},{"x":1.32,"y":45},{"x":1.36,"y":50},{"x":1.4,"y":46},{"x":1.45,"y":52},{"x":1.5,"y":50},{"x":1.55,"y":56},{"x":1.6,"y":60},{"x":1.65,"y":66},{"x":1.7,"y":72},{"x":1.75,"y":82},{"x":1.8,"y":95},{"x":1.85,"y":120},{"x":1.9,"y":156},{"x":1.94,"y":110},{"x":1.98,"y":68},{"x":2.02,"y":58},{"x":2.06,"y":52},{"x":2.1,"y":55},{"x":2.15,"y":48},{"x":2.2,"y":53},{"x":2.25,"y":47},{"x":2.3,"y":50},{"x":2.35,"y":45},{"x":2.4,"y":50},{"x":2.45,"y":46},{"x":2.5,"y":44},{"x":2.55,"y":52},{"x":2.6,"y":45},{"x":2.65,"y":42},{"x":2.7,"y":45},{"x":2.75,"y":41},{"x":2.8,"y":44},{"x":2.85,"y":39},{"x":2.9,"y":42},{"x":2.95,"y":40},{"x":3,"y":43},{"x":3.05,"y":38},{"x":3.1,"y":41},{"x":3.15,"y":37},{"x":3.2,"y":40},{"x":3.25,"y":38},{"x":3.3,"y":36},{"x":3.35,"y":40},{"x":3.4,"y":37},{"x":3.45,"y":39},{"x":3.5,"y":35},{"x":3.55,"y":39},{"x":3.6,"y":37},{"x":3.65,"y":34},{"x":3.7,"y":38},{"x":3.75,"y":36},{"x":3.8,"y":40},{"x":3.85,"y":35},{"x":3.9,"y":38},{"x":3.95,"y":36},{"x":4,"y":39},{"x":4.05,"y":34},{"x":4.1,"y":37},{"x":4.15,"y":39},{"x":4.2,"y":35},{"x":4.25,"y":38},{"x":4.3,"y":34},{"x":4.35,"y":37},{"x":4.4,"y":40},{"x":4.45,"y":36},{"x":4.5,"y":38},{"x":4.55,"y":34},{"x":4.6,"y":39},{"x":4.65,"y":36},{"x":4.7,"y":33},{"x":4.75,"y":38},{"x":4.8,"y":36},{"x":4.85,"y":39},{"x":4.9,"y":35},{"x":4.95,"y":38},{"x":5,"y":40},{"x":5.05,"y":35},{"x":5.1,"y":37},{"x":5.15,"y":39},{"x":5.2,"y":36},{"x":5.25,"y":38},{"x":5.3,"y":34},{"x":5.35,"y":39},{"x":5.4,"y":37},{"x":5.45,"y":40},{"x":5.5,"y":36},{"x":5.55,"y":38},{"x":5.6,"y":40},{"x":5.65,"y":35},{"x":5.7,"y":38},{"x":5.75,"y":36},{"x":5.8,"y":40},{"x":5.85,"y":37},{"x":5.9,"y":39},{"x":5.95,"y":36},{"x":6,"y":40},{"x":6.05,"y":37},{"x":6.1,"y":39},{"x":6.15,"y":41},{"x":6.2,"y":37},{"x":6.25,"y":40},{"x":6.3,"y":38},{"x":6.35,"y":42},{"x":6.4,"y":38},{"x":6.45,"y":41},{"x":6.5,"y":39},{"x":6.55,"y":43},{"x":6.6,"y":39},{"x":6.65,"y":42},{"x":6.7,"y":40},{"x":6.75,"y":44},{"x":6.8,"y":40},{"x":6.85,"y":43},{"x":6.9,"y":41},{"x":6.95,"y":45},{"x":7,"y":42},{"x":7.05,"y":45},{"x":7.1,"y":43},{"x":7.15,"y":47},{"x":7.2,"y":44},{"x":7.25,"y":48},{"x":7.3,"y":45},{"x":7.35,"y":49},{"x":7.4,"y":46},{"x":7.45,"y":50},{"x":7.5,"y":47},{"x":7.55,"y":51},{"x":7.6,"y":48},{"x":7.65,"y":52},{"x":7.7,"y":49},{"x":7.75,"y":54},{"x":7.8,"y":51},{"x":7.85,"y":55},{"x":7.9,"y":52},{"x":7.95,"y":57},{"x":8,"y":54},{"x":8.05,"y":58},{"x":8.1,"y":55},{"x":8.15,"y":60},{"x":8.2,"y":57},{"x":8.25,"y":61},{"x":8.3,"y":58},{"x":8.35,"y":63},{"x":8.4,"y":60},{"x":8.45,"y":65},{"x":8.5,"y":62},{"x":8.55,"y":66},{"x":8.6,"y":63},{"x":8.65,"y":68},{"x":8.7,"y":65},{"x":8.75,"y":70},{"x":8.8,"y":66},{"x":8.85,"y":71},{"x":8.9,"y":68},{"x":8.95,"y":73},{"x":9,"y":70},{"x":9.05,"y":75},{"x":9.1,"y":71},{"x":9.15,"y":77},{"x":9.2,"y":73},{"x":9.25,"y":78},{"x":9.3,"y":75},{"x":9.35,"y":80},{"x":9.4,"y":76},{"x":9.45,"y":82},{"x":9.5,"y":78},{"x":9.55,"y":83},{"x":9.6,"y":80},{"x":9.65,"y":86},{"x":9.7,"y":81},{"x":9.75,"y":87},{"x":9.8,"y":82},{"x":9.85,"y":88},{"x":9.9,"y":83},{"x":9.95,"y":88},{"x":10,"y":82},{"x":10.05,"y":87},{"x":10.1,"y":81},{"x":10.15,"y":86},{"x":10.2,"y":80},{"x":10.25,"y":84},{"x":10.3,"y":78},{"x":10.35,"y":83},{"x":10.4,"y":77},{"x":10.45,"y":81},{"x":10.5,"y":75},{"x":10.55,"y":79},{"x":10.6,"y":73},{"x":10.65,"y":77},{"x":10.7,"y":72},{"x":10.75,"y":76},{"x":10.8,"y":70},{"x":10.85,"y":74},{"x":10.9,"y":69},{"x":10.95,"y":72},{"x":11,"y":67},{"x":11.05,"y":71},{"x":11.1,"y":66},{"x":11.15,"y":70},{"x":11.2,"y":64},{"x":11.25,"y":68},{"x":11.3,"y":63},{"x":11.35,"y":67},{"x":11.4,"y":62},{"x":11.45,"y":65},{"x":11.5,"y":60},{"x":11.55,"y":64},{"x":11.6,"y":59},{"x":11.65,"y":63},{"x":11.7,"y":58},{"x":11.75,"y":62},{"x":11.8,"y":57},{"x":11.85,"y":61},{"x":11.9,"y":56},{"x":11.95,"y":60},{"x":12,"y":55},{"x":12.05,"y":59},{"x":12.1,"y":54},{"x":12.15,"y":58},{"x":12.2,"y":53},{"x":12.25,"y":57},{"x":12.3,"y":52},{"x":12.35,"y":56},{"x":12.4,"y":52},{"x":12.45,"y":55},{"x":12.5,"y":51},{"x":12.55,"y":55},{"x":12.6,"y":50},{"x":12.65,"y":54},{"x":12.7,"y":50},{"x":12.75,"y":53},{"x":12.8,"y":49},{"x":12.85,"y":53},{"x":12.9,"y":49},{"x":12.95,"y":52},{"x":13,"y":48},{"x":13.05,"y":52},{"x":13.1,"y":48},{"x":13.15,"y":51},{"x":13.2,"y":47},{"x":13.25,"y":51},{"x":13.3,"y":47},{"x":13.35,"y":50},{"x":13.4,"y":46},{"x":13.45,"y":50},{"x":13.5,"y":46},{"x":13.55,"y":50},{"x":13.6,"y":46},{"x":13.65,"y":49},{"x":13.7,"y":45},{"x":13.75,"y":49},{"x":13.8,"y":45},{"x":13.85,"y":49},{"x":13.9,"y":45},{"x":13.95,"y":48},{"x":14,"y":44},{"x":14.05,"y":48},{"x":14.1,"y":44},{"x":14.15,"y":48},{"x":14.2,"y":44},{"x":14.25,"y":47},{"x":14.3,"y":43},{"x":14.35,"y":47},{"x":14.4,"y":43},{"x":14.45,"y":47},{"x":14.5,"y":43},{"x":14.55,"y":46},{"x":14.6,"y":42},{"x":14.65,"y":46},{"x":14.7,"y":42},{"x":14.75,"y":46},{"x":14.8,"y":42},{"x":14.85,"y":45},{"x":14.9,"y":39},{"x":14.95,"y":45},{"x":15,"y":44}],
"c2":[{"x":0.39,"y":2.6},{"x":0.41,"y":40},{"x":0.43,"y":95},{"x":0.46,"y":108},{"x":0.5,"y":105},{"x":0.54,"y":102},{"x":0.58,"y":130},{"x":0.62,"y":190},{"x":0.66,"y":280},{"x":0.68,"y":330},{"x":0.7,"y":260},{"x":0.72,"y":60},{"x":0.74,"y":14},{"x":0.77,"y":10},{"x":0.8,"y":7.5},{"x":0.83,"y":8.2},{"x":0.86,"y":6.8},{"x":0.9,"y":7.2},{"x":0.95,"y":5.5},{"x":1,"y":4.8},{"x":1.05,"y":5.3},{"x":1.1,"y":4.4},{"x":1.15,"y":5},{"x":1.2,"y":5.2},{"x":1.25,"y":5.8},{"x":1.3,"y":6.2},{"x":1.34,"y":7.5},{"x":1.37,"y":9.2},{"x":1.4,"y":6},{"x":1.43,"y":3.8},{"x":1.47,"y":3.4},{"x":1.5,"y":2.2},{"x":1.53,"y":3.6},{"x":1.58,"y":3.9},{"x":1.63,"y":3.5},{"x":1.68,"y":4},{"x":1.73,"y":4.2},{"x":1.78,"y":4.6},{"x":1.83,"y":4.8},{"x":1.88,"y":5.3},{"x":1.93,"y":5.8},{"x":1.98,"y":6.6},{"x":2.03,"y":7.4},{"x":2.07,"y":7},{"x":2.12,"y":5.2},{"x":2.17,"y":4.5},{"x":2.2,"y":4.8},{"x":2.25,"y":4},{"x":2.3,"y":3.6},{"x":2.35,"y":4.3},{"x":2.4,"y":4.2},{"x":2.45,"y":3.5},{"x":2.5,"y":3.3},{"x":2.55,"y":4},{"x":2.6,"y":3.9},{"x":2.65,"y":3.2},{"x":2.7,"y":3},{"x":2.75,"y":3.7},{"x":2.8,"y":3.6},{"x":2.85,"y":2.9},{"x":2.9,"y":2.5},{"x":2.95,"y":3.3},{"x":3,"y":3.4},{"x":3.05,"y":2.7},{"x":3.1,"y":2.7},{"x":3.15,"y":3.2},{"x":3.2,"y":3.3},{"x":3.25,"y":2.6},{"x":3.3,"y":2.6},{"x":3.35,"y":3.1},{"x":3.4,"y":3.1},{"x":3.45,"y":2.5},{"x":3.5,"y":2.5},{"x":3.55,"y":3},{"x":3.6,"y":3},{"x":3.65,"y":2.4},{"x":3.7,"y":2.4},{"x":3.75,"y":3},{"x":3.8,"y":3},{"x":3.85,"y":2.3},{"x":3.9,"y":2.3},{"x":3.95,"y":2.9},{"x":4,"y":2.9},{"x":4.05,"y":2.4},{"x":4.1,"y":2.3},{"x":4.15,"y":1.3},{"x":4.2,"y":2.8},{"x":4.25,"y":2.4},{"x":4.3,"y":2.2},{"x":4.35,"y":2.7},{"x":4.4,"y":2.8},{"x":4.45,"y":2.3},{"x":4.5,"y":2.2},{"x":4.55,"y":2.8},{"x":4.6,"y":2.9},{"x":4.65,"y":2.4},{"x":4.7,"y":2.2},{"x":4.75,"y":2.7},{"x":4.8,"y":2.9},{"x":4.85,"y":1.8},{"x":4.9,"y":2.8},{"x":4.95,"y":2.4},{"x":5,"y":2.3},{"x":5.05,"y":2.8},{"x":5.1,"y":2.9},{"x":5.15,"y":2.3},{"x":5.2,"y":2.3},{"x":5.25,"y":2.8},{"x":5.3,"y":3},{"x":5.35,"y":2.4},{"x":5.4,"y":2.4},{"x":5.45,"y":2.9},{"x":5.5,"y":3},{"x":5.55,"y":2.4},{"x":5.6,"y":2.4},{"x":5.65,"y":3},{"x":5.7,"y":3.1},{"x":5.75,"y":2.5},{"x":5.8,"y":2.5},{"x":5.85,"y":3.1},{"x":5.9,"y":3.2},{"x":5.95,"y":2.6},{"x":6,"y":2.6},{"x":6.05,"y":3.1},{"x":6.1,"y":3.2},{"x":6.15,"y":2.6},{"x":6.2,"y":2.6},{"x":6.25,"y":3.2},{"x":6.3,"y":3.3},{"x":6.35,"y":2.7},{"x":6.4,"y":2.7},{"x":6.45,"y":3.3},{"x":6.5,"y":3.4},{"x":6.55,"y":2.8},{"x":6.6,"y":2.8},{"x":6.65,"y":3.4},{"x":6.7,"y":3.5},{"x":6.75,"y":2.9},{"x":6.8,"y":2.9},{"x":6.85,"y":3.5},{"x":6.9,"y":3.6},{"x":6.95,"y":3},{"x":7,"y":3},{"x":7.05,"y":3.7},{"x":7.1,"y":3.8},{"x":7.15,"y":3.2},{"x":7.2,"y":3.3},{"x":7.25,"y":4},{"x":7.3,"y":4.1},{"x":7.35,"y":3.5},{"x":7.4,"y":3.6},{"x":7.45,"y":4.3},{"x":7.5,"y":4.5},{"x":7.55,"y":3.9},{"x":7.6,"y":4},{"x":7.65,"y":4.7},{"x":7.7,"y":4.9},{"x":7.75,"y":4.2},{"x":7.8,"y":4.4},{"x":7.85,"y":5.1},{"x":7.9,"y":5.3},{"x":7.95,"y":4.6},{"x":8,"y":4.8},{"x":8.05,"y":5.5},{"x":8.1,"y":5.7},{"x":8.15,"y":5},{"x":8.2,"y":5.2},{"x":8.25,"y":5.9},{"x":8.3,"y":6.1},{"x":8.35,"y":5.4},{"x":8.4,"y":5.6},{"x":8.45,"y":6.3},{"x":8.5,"y":6.5},{"x":8.55,"y":5.8},{"x":8.6,"y":6},{"x":8.65,"y":6.7},{"x":8.7,"y":6.9},{"x":8.75,"y":6.2},{"x":8.8,"y":6.4},{"x":8.85,"y":7.1},{"x":8.9,"y":7.3},{"x":8.95,"y":6.6},{"x":9,"y":6.8},{"x":9.05,"y":7.5},{"x":9.1,"y":7.7},{"x":9.15,"y":7},{"x":9.2,"y":7.2},{"x":9.25,"y":7.9},{"x":9.3,"y":8.1},{"x":9.35,"y":7.3},{"x":9.4,"y":7.5},{"x":9.45,"y":8.3},{"x":9.5,"y":8.5},{"x":9.55,"y":7.6},{"x":9.6,"y":7.7},{"x":9.65,"y":8.6},{"x":9.7,"y":8.7},{"x":9.75,"y":7.7},{"x":9.8,"y":7.8},{"x":9.85,"y":8.7},{"x":9.9,"y":8.8},{"x":9.95,"y":7.7},{"x":10,"y":7.6},{"x":10.05,"y":8.6},{"x":10.1,"y":8.7},{"x":10.15,"y":7.6},{"x":10.2,"y":7.5},{"x":10.25,"y":8.4},{"x":10.3,"y":8.4},{"x":10.35,"y":7.3},{"x":10.4,"y":7.3},{"x":10.45,"y":8.1},{"x":10.5,"y":8},{"x":10.55,"y":7},{"x":10.6,"y":7},{"x":10.65,"y":7.7},{"x":10.7,"y":7.6},{"x":10.75,"y":6.7},{"x":10.8,"y":6.6},{"x":10.85,"y":7.3},{"x":10.9,"y":7.2},{"x":10.95,"y":6.3},{"x":11,"y":6.2},{"x":11.05,"y":6.9},{"x":11.1,"y":6.7},{"x":11.15,"y":5.9},{"x":11.2,"y":5.8},{"x":11.25,"y":6.4},{"x":11.3,"y":6.3},{"x":11.35,"y":5.5},{"x":11.4,"y":5.4},{"x":11.45,"y":6},{"x":11.5,"y":5.9},{"x":11.55,"y":5.2},{"x":11.6,"y":5.1},{"x":11.65,"y":5.6},{"x":11.7,"y":5.5},{"x":11.75,"y":4.9},{"x":11.8,"y":4.8},{"x":11.85,"y":5.3},{"x":11.9,"y":5.2},{"x":11.95,"y":4.6},{"x":12,"y":4.5},{"x":12.05,"y":5},{"x":12.1,"y":4.9},{"x":12.15,"y":4.3},{"x":12.2,"y":4.2},{"x":12.25,"y":4.7},{"x":12.3,"y":4.6},{"x":12.35,"y":4.1},{"x":12.4,"y":4},{"x":12.45,"y":4.5},{"x":12.5,"y":4.4},{"x":12.55,"y":3.9},{"x":12.6,"y":3.8},{"x":12.65,"y":4.3},{"x":12.7,"y":4.2},{"x":12.75,"y":3.7},{"x":12.8,"y":3.6},{"x":12.85,"y":4.1},{"x":12.9,"y":4},{"x":12.95,"y":3.6},{"x":13,"y":3.5},{"x":13.05,"y":4},{"x":13.1,"y":3.9},{"x":13.15,"y":3.5},{"x":13.2,"y":3.4},{"x":13.25,"y":3.9},{"x":13.3,"y":3.8},{"x":13.35,"y":3.4},{"x":13.4,"y":3.3},{"x":13.45,"y":3.8},{"x":13.5,"y":3.7},{"x":13.55,"y":3.3},{"x":13.6,"y":3.2},{"x":13.65,"y":3.7},{"x":13.7,"y":3.6},{"x":13.75,"y":3.2},{"x":13.8,"y":3.1},{"x":13.85,"y":3.6},{"x":13.9,"y":3.6},{"x":13.95,"y":3.1},{"x":14,"y":3.1},{"x":14.05,"y":3.5},{"x":14.1,"y":3.5},{"x":14.15,"y":3},{"x":14.2,"y":3},{"x":14.25,"y":3.5},{"x":14.3,"y":3.5},{"x":14.35,"y":3},{"x":14.4,"y":2.9},{"x":14.45,"y":3.4},{"x":14.5,"y":3.4},{"x":14.55,"y":2.9},{"x":14.6,"y":2.8},{"x":14.65,"y":3.4},{"x":14.7,"y":3.4},{"x":14.75,"y":2.9},{"x":14.8,"y":2.8},{"x":14.85,"y":3.3},{"x":14.9,"y":3.3},{"x":14.95,"y":2.9},{"x":15,"y":3}],
"ci":[{"x":0.4,"y":2.7},{"x":0.41,"y":6},{"x":0.42,"y":14},{"x":0.43,"y":40},{"x":0.44,"y":70},{"x":0.45,"y":92},{"x":0.47,"y":110},{"x":0.49,"y":112},{"x":0.51,"y":106},{"x":0.53,"y":103},{"x":0.55,"y":106},{"x":0.57,"y":112},{"x":0.59,"y":122},{"x":0.61,"y":140},{"x":0.63,"y":170},{"x":0.65,"y":210},{"x":0.67,"y":270},{"x":0.69,"y":350},{"x":0.7,"y":330},{"x":0.71,"y":270},{"x":0.72,"y":150},{"x":0.73,"y":40},{"x":0.74,"y":20},{"x":0.75,"y":14},{"x":0.76,"y":11},{"x":0.77,"y":9.5},{"x":0.78,"y":10},{"x":0.8,"y":8.3},{"x":0.82,"y":8.8},{"x":0.84,"y":7.5},{"x":0.86,"y":7.2},{"x":0.88,"y":6.8},{"x":0.9,"y":7},{"x":0.92,"y":6.2},{"x":0.94,"y":6.4},{"x":0.96,"y":5.8},{"x":0.98,"y":6.2},{"x":1,"y":5.3},{"x":1.02,"y":5.8},{"x":1.04,"y":4.8},{"x":1.06,"y":5.5},{"x":1.08,"y":4.6},{"x":1.1,"y":5.2},{"x":1.12,"y":4.5},{"x":1.14,"y":5},{"x":1.16,"y":4.6},{"x":1.18,"y":5.2},{"x":1.2,"y":4.7},{"x":1.22,"y":5.3},{"x":1.24,"y":4.8},{"x":1.26,"y":5.2},{"x":1.28,"y":4.9},{"x":1.3,"y":5.5},{"x":1.32,"y":5.8},{"x":1.34,"y":6.6},{"x":1.36,"y":7.8},{"x":1.38,"y":8.6},{"x":1.4,"y":7.5},{"x":1.42,"y":5},{"x":1.44,"y":3.9},{"x":1.46,"y":3.5},{"x":1.48,"y":4},{"x":1.5,"y":3.3},{"x":1.52,"y":3.8},{"x":1.54,"y":3},{"x":1.55,"y":2.4},{"x":1.57,"y":3.5},{"x":1.59,"y":4.2},{"x":1.61,"y":3.6},{"x":1.63,"y":4.1},{"x":1.65,"y":3.8},{"x":1.67,"y":4.2},{"x":1.69,"y":3.9},{"x":1.71,"y":4.3},{"x":1.73,"y":4},{"x":1.75,"y":4.2},{"x":1.77,"y":3.9},{"x":1.79,"y":4.4},{"x":1.81,"y":4.1},{"x":1.83,"y":4.5},{"x":1.85,"y":4.2},{"x":1.87,"y":4.7},{"x":1.89,"y":4.4},{"x":1.91,"y":4.8},{"x":1.93,"y":4.5},{"x":1.95,"y":5},{"x":1.97,"y":4.6},{"x":1.99,"y":5.3},{"x":2,"y":5.2}]
},
"bounds":"flush",
"spacing":101,
"vconcat":[
{
 "width":531,"height":371,
 "layer":[
   {"data":{"name":"a1"},"mark":{"type":"line","color":"black","strokeWidth":1,"clip":true},
    "encoding":{
     "x":{"field":"x","type":"quantitative","scale":{"domain":[0,15],"nice":false,"zero":false},
          "axis":{"orient":"bottom","title":"Theta / Degree","values":[0,1,2,3,4,5,6,7,8,9,10,11,12,13,14,15],"labelExpr":"datum.value%2==0 && datum.value<15 ? format(datum.value,'d') : ''","tickSize":{"condition":{"test":"datum.value%2==0","value":6},"value":3},"labelFontSize":19,"titleFontSize":28,"labelPadding":5,"titlePadding":3}},
     "y":{"field":"y","type":"quantitative","scale":{"type":"log","domain":[0.1,290],"nice":false},
          "axis":{"orient":"left","title":"Intensity","values":[0.1,0.2,0.3,0.4,0.5,0.6,0.7,0.8,0.9,1,2,3,4,5,6,7,8,9,10,20,30,40,50,60,70,80,90,100,200],"labelExpr":"abs(log(datum.value)/LN10-round(log(datum.value)/LN10))<0.01 ? format(datum.value,'~g') : ''","tickSize":{"condition":{"test":"abs(log(datum.value)/LN10-round(log(datum.value)/LN10))<0.01","value":8},"value":4},"labelFontSize":19,"titleFontSize":28,"labelPadding":4,"titlePadding":3}}}},
   {"data":{"name":"a2"},"mark":{"type":"line","color":"black","strokeWidth":1,"clip":true},
    "encoding":{
     "x":{"field":"x","type":"quantitative","scale":{"domain":[0,15],"nice":false,"zero":false},"axis":null},
     "y":{"field":"y","type":"quantitative","scale":{"type":"log","domain":[0.1,290],"nice":false},"axis":null}}},
   {"data":{"values":[{"x":13.75,"y":11.6,"t":"120 °C"},{"x":13.75,"y":1.09,"t":"155 °C"}]},"mark":{"type":"text","fontSize":18,"align":"center","baseline":"middle"},
    "encoding":{
     "x":{"field":"x","type":"quantitative","scale":{"domain":[0,15],"nice":false,"zero":false},"axis":null},
     "y":{"field":"y","type":"quantitative","scale":{"type":"log","domain":[0.1,290],"nice":false},"axis":null},
     "text":{"field":"t"}}},
   {"data":{"values":[{"x":14.4,"y":124,"t":"a"}]},"mark":{"type":"text","fontSize":56,"align":"center","baseline":"middle"},
    "encoding":{
     "x":{"field":"x","type":"quantitative","scale":{"domain":[0,15],"nice":false,"zero":false},"axis":null},
     "y":{"field":"y","type":"quantitative","scale":{"type":"log","domain":[0.1,290],"nice":false},"axis":null},
     "text":{"field":"t"}}},
   {"data":{"values":[{"x1":0.3,"x2":2,"y1":0.3,"y2":170}]},"mark":{"type":"rect","fill":"white","stroke":"black","strokeWidth":1},
    "encoding":{
     "x":{"field":"x1","type":"quantitative","scale":{"domain":[0.3,2],"range":[138,312],"nice":false,"zero":false},"axis":null},
     "x2":{"field":"x2"},
     "y":{"field":"y1","type":"quantitative","scale":{"type":"log","domain":[0.3,170],"range":[142,13],"nice":false},"axis":null},
     "y2":{"field":"y2"}}},
   {"data":{"name":"ai"},"mark":{"type":"line","color":"black","strokeWidth":1},
    "encoding":{
     "x":{"field":"x","type":"quantitative","scale":{"domain":[0.3,2],"range":[138,312],"nice":false,"zero":false},
          "axis":{"orient":"bottom","offset":-229,"title":"Theta / Degree","values":[0.5,0.75,1,1.25,1.5,1.75,2],"labelExpr":"round(datum.value*2)==datum.value*2 ? format(datum.value,'.1f') : ''","tickSize":{"condition":{"test":"round(datum.value*2)==datum.value*2","value":3},"value":1.5},"labelFontSize":10,"titleFontSize":14,"labelPadding":2,"titlePadding":3,"domainWidth":1}},
     "y":{"field":"y","type":"quantitative","scale":{"type":"log","domain":[0.3,170],"range":[142,13],"nice":false},
          "axis":{"orient":"left","offset":-138,"title":"Intensity","values":[0.3,0.4,0.5,0.6,0.7,0.8,0.9,1,2,3,4,5,6,7,8,9,10,20,30,40,50,60,70,80,90,100],"labelExpr":"abs(log(datum.value)/LN10-round(log(datum.value)/LN10))<0.01 ? format(datum.value,'~g') : ''","tickSize":{"condition":{"test":"abs(log(datum.value)/LN10-round(log(datum.value)/LN10))<0.01","value":3},"value":1.5},"labelFontSize":10,"titleFontSize":14,"labelPadding":2,"titlePadding":2,"domainWidth":1}}}},
   {"data":{"values":[{"x":1.73,"y":6.6,"t":"155 °C"}]},"mark":{"type":"text","fontSize":14,"align":"center","baseline":"middle"},
    "encoding":{
     "x":{"field":"x","type":"quantitative","scale":{"domain":[0.3,2],"range":[138,312],"nice":false,"zero":false},"axis":null},
     "y":{"field":"y","type":"quantitative","scale":{"type":"log","domain":[0.3,170],"range":[142,13],"nice":false},"axis":null},
     "text":{"field":"t"}}}
 ],
 "resolve":{"scale":{"x":"independent","y":"independent"}}
},
{
 "bounds":"flush",
 "spacing":90,
 "vconcat":[
 {
 "width":531,"height":368,
 "layer":[
   {"data":{"name":"b1"},"mark":{"type":"line","color":"black","strokeWidth":1,"clip":true},
    "encoding":{
     "x":{"field":"x","type":"quantitative","scale":{"domain":[0,15],"nice":false,"zero":false},
          "axis":{"orient":"bottom","title":"Theta / Degree","values":[0,1,2,3,4,5,6,7,8,9,10,11,12,13,14,15],"labelExpr":"datum.value%2==0 && datum.value<15 ? format(datum.value,'d') : ''","tickSize":{"condition":{"test":"datum.value%2==0","value":6},"value":3},"labelFontSize":19,"titleFontSize":28,"labelPadding":5,"titlePadding":3}},
     "y":{"field":"y","type":"quantitative","scale":{"type":"log","domain":[2.5,790],"nice":false},
          "axis":{"orient":"left","title":"Intensity","values":[3,4,5,6,7,8,9,10,20,30,40,50,60,70,80,90,100,200,300,400,500,600,700],"labelExpr":"abs(log(datum.value)/LN10-round(log(datum.value)/LN10))<0.01 ? format(datum.value,'~g') : ''","tickSize":{"condition":{"test":"abs(log(datum.value)/LN10-round(log(datum.value)/LN10))<0.01","value":8},"value":4},"labelFontSize":19,"titleFontSize":28,"labelPadding":4,"titlePadding":3}}}},
   {"data":{"name":"b2"},"mark":{"type":"line","color":"black","strokeWidth":1,"clip":true},
    "encoding":{
     "x":{"field":"x","type":"quantitative","scale":{"domain":[0,15],"nice":false,"zero":false},"axis":null},
     "y":{"field":"y","type":"quantitative","scale":{"type":"log","domain":[2.5,790],"nice":false},"axis":null}}},
   {"data":{"values":[{"x":13.9,"y":28,"t":"105 °C"},{"x":13.95,"y":8.3,"t":"140 °C"}]},"mark":{"type":"text","fontSize":19,"align":"center","baseline":"middle"},
    "encoding":{
     "x":{"field":"x","type":"quantitative","scale":{"domain":[0,15],"nice":false,"zero":false},"axis":null},
     "y":{"field":"y","type":"quantitative","scale":{"type":"log","domain":[2.5,790],"nice":false},"axis":null},
     "text":{"field":"t"}}},
   {"data":{"values":[{"x":14.6,"y":450,"t":"b"}]},"mark":{"type":"text","fontSize":56,"align":"center","baseline":"middle"},
    "encoding":{
     "x":{"field":"x","type":"quantitative","scale":{"domain":[0,15],"nice":false,"zero":false},"axis":null},
     "y":{"field":"y","type":"quantitative","scale":{"type":"log","domain":[2.5,790],"nice":false},"axis":null},
     "text":{"field":"t"}}},
   {"data":{"values":[{"x1":0.3,"x2":2,"y1":3,"y2":440}]},"mark":{"type":"rect","fill":"white","stroke":"black","strokeWidth":1},
    "encoding":{
     "x":{"field":"x1","type":"quantitative","scale":{"domain":[0.3,2],"range":[112,310],"nice":false,"zero":false},"axis":null},
     "x2":{"field":"x2"},
     "y":{"field":"y1","type":"quantitative","scale":{"type":"log","domain":[3,440],"range":[167,22],"nice":false},"axis":null},
     "y2":{"field":"y2"}}},
   {"data":{"name":"bi"},"mark":{"type":"line","color":"black","strokeWidth":1},
    "encoding":{
     "x":{"field":"x","type":"quantitative","scale":{"domain":[0.3,2],"range":[112,310],"nice":false,"zero":false},
          "axis":{"orient":"bottom","offset":-201,"title":"Theta / Degree","values":[0.5,0.75,1,1.25,1.5,1.75,2],"labelExpr":"round(datum.value*2)==datum.value*2 ? format(datum.value,'.1f') : ''","tickSize":{"condition":{"test":"round(datum.value*2)==datum.value*2","value":3},"value":1.5},"labelFontSize":13,"titleFontSize":16,"labelPadding":8,"titlePadding":0,"domainWidth":1}},
     "y":{"field":"y","type":"quantitative","scale":{"type":"log","domain":[3,440],"range":[167,22],"nice":false},
          "axis":{"orient":"left","offset":-112,"title":"Intensity","values":[3,4,5,6,7,8,9,10,20,30,40,50,60,70,80,90,100,200,300,400],"labelExpr":"abs(log(datum.value)/LN10-round(log(datum.value)/LN10))<0.01 ? format(datum.value,'~g') : ''","tickSize":{"condition":{"test":"abs(log(datum.value)/LN10-round(log(datum.value)/LN10))<0.01","value":3},"value":1.5},"labelFontSize":13,"titleFontSize":16,"labelPadding":0,"titlePadding":8,"domainWidth":1}}}},
   {"data":{"values":[{"x":1.75,"y":10.7,"t":"140 °C"}]},"mark":{"type":"text","fontSize":16,"align":"center","baseline":"middle"},
    "encoding":{
     "x":{"field":"x","type":"quantitative","scale":{"domain":[0.3,2],"range":[112,310],"nice":false,"zero":false},"axis":null},
     "y":{"field":"y","type":"quantitative","scale":{"type":"log","domain":[3,440],"range":[167,22],"nice":false},"axis":null},
     "text":{"field":"t"}}}
 ],
 "resolve":{"scale":{"x":"independent","y":"independent"}}
 },
 {
 "width":531,"height":371,
 "layer":[
   {"data":{"name":"c1"},"mark":{"type":"line","color":"black","strokeWidth":1,"clip":true},
    "encoding":{
     "x":{"field":"x","type":"quantitative","scale":{"domain":[0,15],"nice":false,"zero":false},
          "axis":{"orient":"bottom","title":"Theta / Degree","values":[0,1,2,3,4,5,6,7,8,9,10,11,12,13,14,15],"labelExpr":"datum.value%2==0 && datum.value<15 ? format(datum.value,'d') : ''","tickSize":{"condition":{"test":"datum.value%2==0","value":6},"value":3},"labelFontSize":19,"titleFontSize":28,"labelPadding":5,"titlePadding":3}},
     "y":{"field":"y","type":"quantitative","scale":{"type":"log","domain":[1.5,4800],"nice":false},
          "axis":{"orient":"left","title":"Intensity","values":[2,3,4,5,6,7,8,9,10,20,30,40,50,60,70,80,90,100,200,300,400,500,600,700,800,900,1000,2000,3000,4000],"labelExpr":"abs(log(datum.value)/LN10-round(log(datum.value)/LN10))<0.01 ? format(datum.value,'~g') : ''","tickSize":{"condition":{"test":"abs(log(datum.value)/LN10-round(log(datum.value)/LN10))<0.01","value":8},"value":4},"labelFontSize":19,"titleFontSize":28,"labelPadding":4,"titlePadding":3}}}},
   {"data":{"name":"c2"},"mark":{"type":"line","color":"black","strokeWidth":1,"clip":true},
    "encoding":{
     "x":{"field":"x","type":"quantitative","scale":{"domain":[0,15],"nice":false,"zero":false},"axis":null},
     "y":{"field":"y","type":"quantitative","scale":{"type":"log","domain":[1.5,4800],"nice":false},"axis":null}}},
   {"data":{"values":[{"x":13.84,"y":81,"t":"100 °C"},{"x":13.8,"y":6.9,"t":"140 °C"}]},"mark":{"type":"text","fontSize":19,"align":"center","baseline":"middle"},
    "encoding":{
     "x":{"field":"x","type":"quantitative","scale":{"domain":[0,15],"nice":false,"zero":false},"axis":null},
     "y":{"field":"y","type":"quantitative","scale":{"type":"log","domain":[1.5,4800],"nice":false},"axis":null},
     "text":{"field":"t"}}},
   {"data":{"values":[{"x":14.46,"y":2020,"t":"c"}]},"mark":{"type":"text","fontSize":56,"align":"center","baseline":"middle"},
    "encoding":{
     "x":{"field":"x","type":"quantitative","scale":{"domain":[0,15],"nice":false,"zero":false},"axis":null},
     "y":{"field":"y","type":"quantitative","scale":{"type":"log","domain":[1.5,4800],"nice":false},"axis":null},
     "text":{"field":"t"}}},
   {"data":{"values":[{"x1":0.3,"x2":2,"y1":2,"y2":500}]},"mark":{"type":"rect","fill":"white","stroke":"black","strokeWidth":1},
    "encoding":{
     "x":{"field":"x1","type":"quantitative","scale":{"domain":[0.3,2],"range":[117,322],"nice":false,"zero":false},"axis":null},
     "x2":{"field":"x2"},
     "y":{"field":"y1","type":"quantitative","scale":{"type":"log","domain":[2,500],"range":[159,9],"nice":false},"axis":null},
     "y2":{"field":"y2"}}},
   {"data":{"name":"ci"},"mark":{"type":"line","color":"black","strokeWidth":1},
    "encoding":{
     "x":{"field":"x","type":"quantitative","scale":{"domain":[0.3,2],"range":[117,322],"nice":false,"zero":false},
          "axis":{"orient":"bottom","offset":-212,"title":"Theta / Degree","values":[0.5,0.75,1,1.25,1.5,1.75,2],"labelExpr":"round(datum.value*2)==datum.value*2 ? format(datum.value,'.1f') : ''","tickSize":{"condition":{"test":"round(datum.value*2)==datum.value*2","value":3},"value":1.5},"labelFontSize":12,"titleFontSize":16,"labelPadding":1,"titlePadding":5,"domainWidth":1}},
     "y":{"field":"y","type":"quantitative","scale":{"type":"log","domain":[2,500],"range":[159,9],"nice":false},
          "axis":{"orient":"left","offset":-117,"title":"Intensity","values":[2,3,4,5,6,7,8,9,10,20,30,40,50,60,70,80,90,100,200,300,400,500],"labelExpr":"abs(log(datum.value)/LN10-round(log(datum.value)/LN10))<0.01 ? format(datum.value,'~g') : ''","tickSize":{"condition":{"test":"abs(log(datum.value)/LN10-round(log(datum.value)/LN10))<0.01","value":3},"value":1.5},"labelFontSize":12,"titleFontSize":16,"labelPadding":2,"titlePadding":5,"domainWidth":1}}}},
   {"data":{"values":[{"x":1.79,"y":8.7,"t":"140 °C"}]},"mark":{"type":"text","fontSize":12,"align":"center","baseline":"middle"},
    "encoding":{
     "x":{"field":"x","type":"quantitative","scale":{"domain":[0.3,2],"range":[117,322],"nice":false,"zero":false},"axis":null},
     "y":{"field":"y","type":"quantitative","scale":{"type":"log","domain":[2,500],"range":[159,9],"nice":false},"axis":null},
     "text":{"field":"t"}}}
 ],
 "resolve":{"scale":{"x":"independent","y":"independent"}}
 }
 ]
}
]
}
